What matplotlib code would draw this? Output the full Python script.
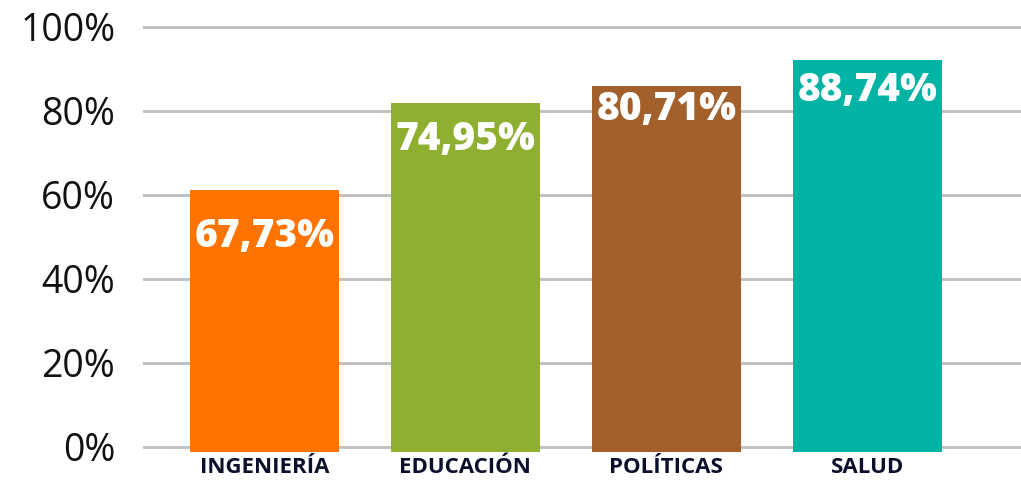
import numpy as np
import matplotlib.pyplot as plt

categorias = ["INGENIERÍA", "EDUCACIÓN", "POLÍTICAS", "SALUD"]
alturas = [61.2, 81.9, 86.0, 92.1]          # altura dibujada de cada barra (%)
etiquetas = ["67,73%", "74,95%", "80,71%", "88,74%"]
colores = ["#FF7300", "#8FAF30", "#A3602A", "#00B3A4"]
desfase = [-47, -36, -24, -30]               # posicion de la etiqueta bajo el borde (px)

fig = plt.figure(figsize=(10.21, 4.83), dpi=100)
ax = fig.add_axes([143 / 1021, 0.0615, 1 - 143 / 1021, 0.9])

x = np.arange(len(categorias))
base = -1.2
ax.bar(x, np.array(alturas) - base, bottom=base, width=0.74, color=colores, zorder=2)

for xi, h, txt, d in zip(x, alturas, etiquetas, desfase):
    ax.annotate(txt, (xi, h), xytext=(0, d * 0.72), textcoords="offset points",
                ha="center", va="center", color="white", fontsize=28,
                fontweight="heavy", family="Open Sans")

ax.set_xlim(-0.604, 3.764)
ax.set_ylim(-1.5, 102)
ax.set_yticks(range(0, 101, 20))
ax.set_yticklabels([f"{v}%" for v in range(0, 101, 20)], family="Open Sans",
                   fontsize=27, color="#111111")
ax.set_xticks(x)
ax.set_xticklabels(categorias, family="Open Sans", fontweight="bold",
                   fontsize=16, color="#0C0F2B")
ax.tick_params(axis="y", length=0, pad=20)
ax.tick_params(axis="x", length=0, pad=3)
ax.grid(axis="y", color="#BFBFBF", linewidth=2, zorder=0)
for s in ax.spines.values():
    s.set_visible(False)

fig.savefig("out.png", dpi=100)
